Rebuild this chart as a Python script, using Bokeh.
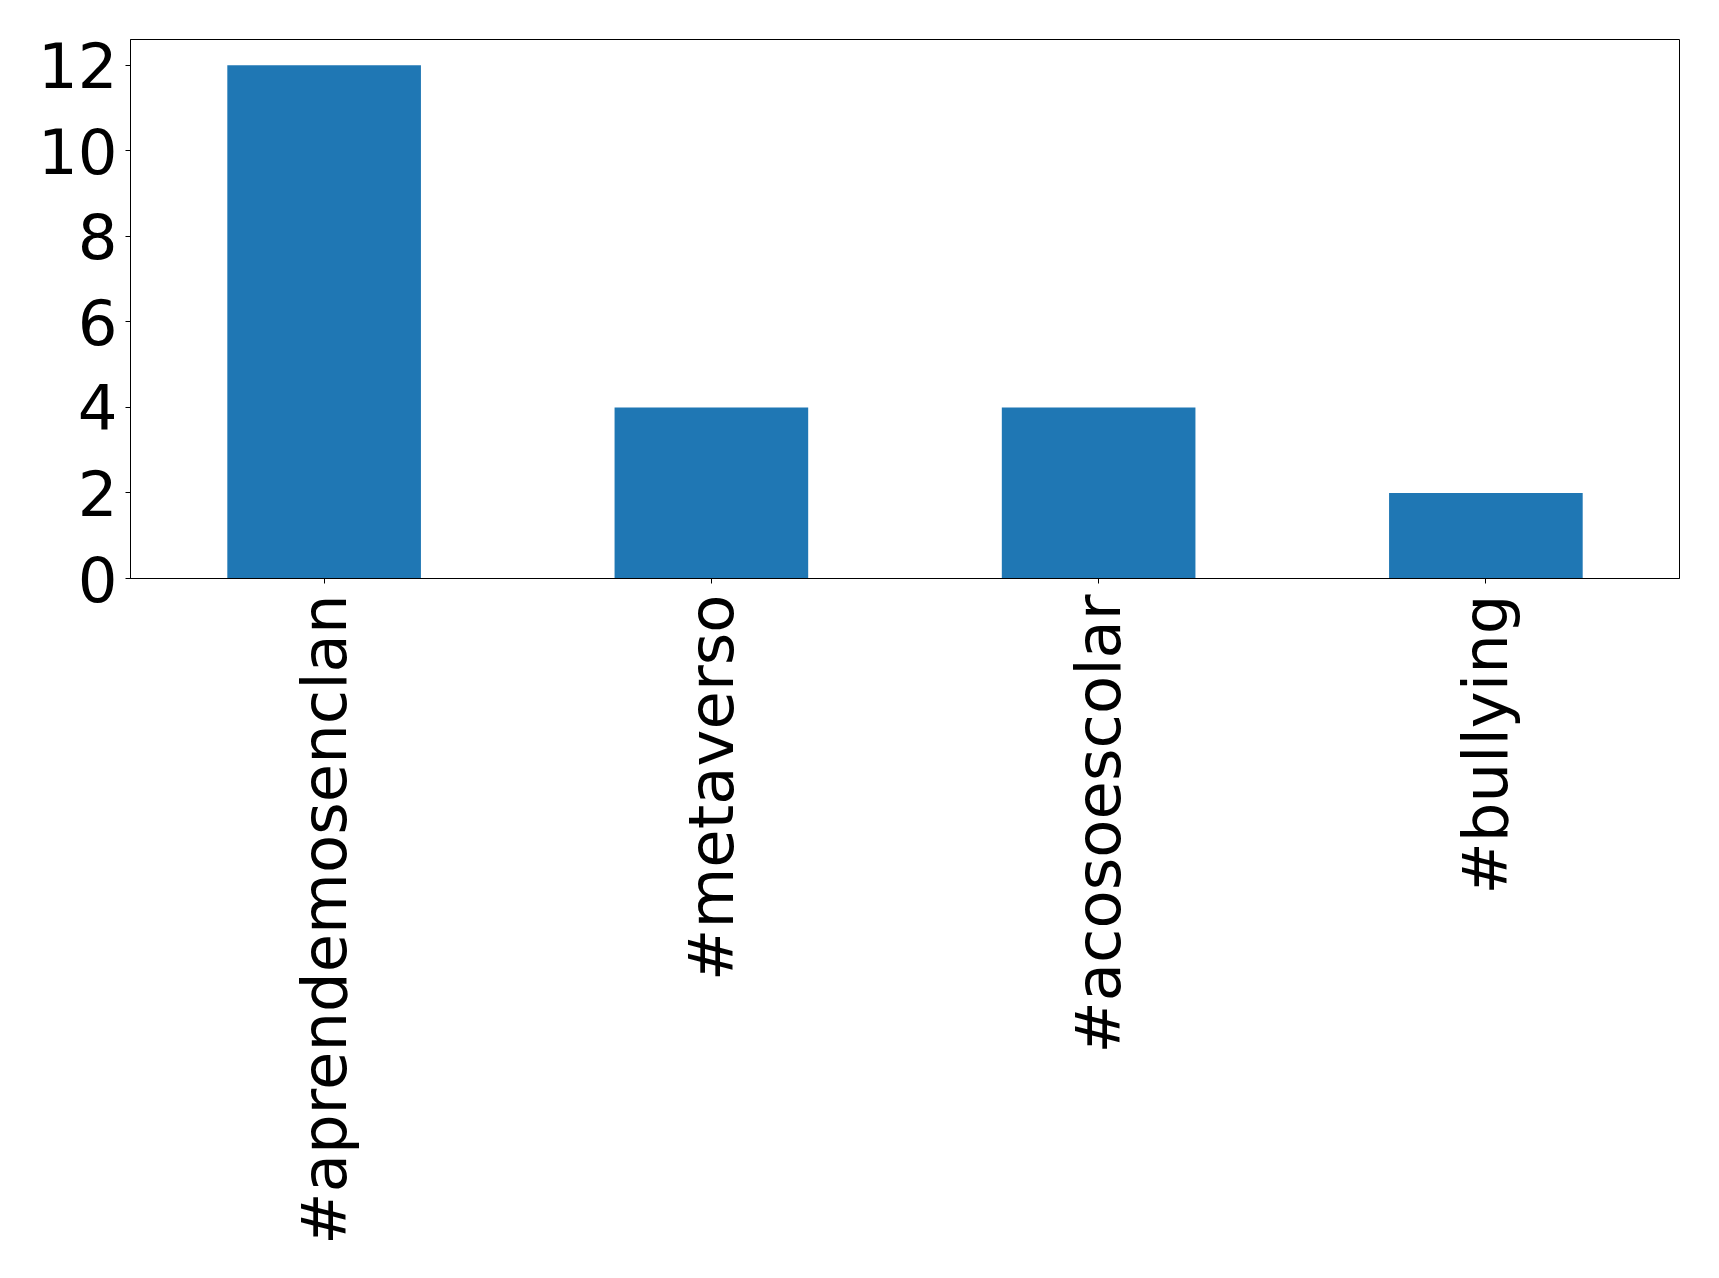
from bokeh.plotting import figure
from bokeh.models import FactorRange, Range1d, FixedTicker
from bokeh.embed import file_html
from bokeh.resources import INLINE
import math

categories = ["#aprendemosenclan", "#metaverso", "#acosoescolar", "#bullying"]
counts = [12, 4, 4, 2]
y_ticks = [0, 2, 4, 6, 8, 10, 12]

p = figure(
    x_range=FactorRange(factors=categories),
    y_range=Range1d(0, 12.6),
    width=1711, height=1270,
    frame_width=1549, frame_height=539,
    min_border_left=130, min_border_top=39, min_border_right=32, min_border_bottom=0,
    output_backend="svg", toolbar_location=None,
)
p.vbar(x=categories, top=counts, width=0.5, color="#1f77b4", line_color=None)

p.xgrid.visible = False
p.ygrid.visible = False
p.outline_line_color = "black"
p.outline_line_width = 1
p.background_fill_color = "white"
p.border_fill_color = "white"

p.yaxis.ticker = FixedTicker(ticks=y_ticks)
for ax in (p.xaxis[0], p.yaxis[0]):
    ax.major_label_text_font = "DejaVu Sans"
    ax.major_label_text_font_size = "62.5px"
    ax.major_label_text_color = "black"
    ax.axis_line_color = "black"
    ax.major_tick_line_color = "black"
    ax.major_tick_out = 5
    ax.major_tick_in = 0
    ax.minor_tick_line_color = None
p.yaxis.major_label_standoff = 8
p.xaxis.major_label_standoff = 11
p.xaxis.major_label_orientation = math.pi / 2

open("out.html", "w").write(file_html(p, INLINE))
